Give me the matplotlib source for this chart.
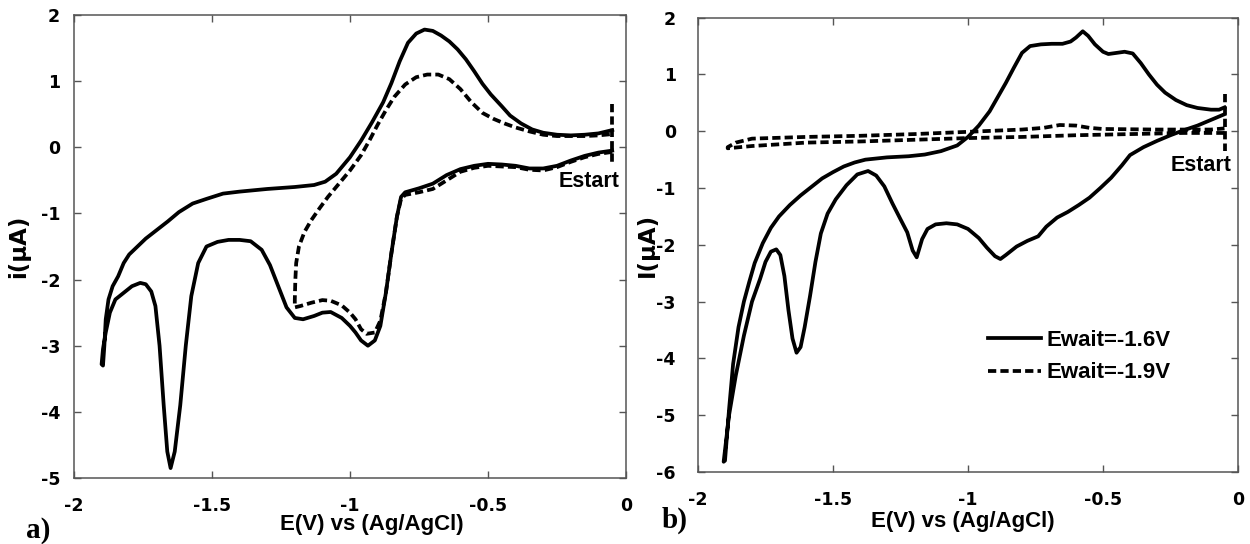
import numpy as np
import matplotlib.pyplot as plt

# (a) cyclic voltammograms, Ewait = -1.6 V (solid) and -1.9 V (dashed)
a_solid_E = [-0.05, -0.1, -0.15, -0.2, -0.25, -0.3, -0.35, -0.4, -0.45, -0.5, -0.55, -0.6, -0.65, -0.7,
             -0.75, -0.8, -0.815, -0.83, -0.85, -0.87, -0.89, -0.91, -0.935, -0.96, -0.98, -1.0, -1.03,
             -1.07, -1.1, -1.13, -1.17, -1.2, -1.23, -1.26, -1.29, -1.32, -1.36, -1.4, -1.44, -1.48,
             -1.52, -1.55, -1.575, -1.595, -1.615, -1.635, -1.65, -1.662, -1.675, -1.69, -1.705, -1.72,
             -1.74, -1.76, -1.79, -1.82, -1.85, -1.87, -1.885, -1.895, -1.9,
             -1.895, -1.89, -1.885, -1.875, -1.86, -1.84, -1.82, -1.8, -1.77, -1.74, -1.7, -1.66, -1.62,
             -1.57, -1.52, -1.46, -1.4, -1.3, -1.2, -1.13, -1.09, -1.05, -1.0, -0.96, -0.92, -0.88,
             -0.85, -0.82, -0.79, -0.76, -0.73, -0.7, -0.67, -0.64, -0.61, -0.58, -0.55, -0.52, -0.49,
             -0.45, -0.42, -0.38, -0.34, -0.3, -0.25, -0.2, -0.15, -0.1, -0.05]
a_solid_i = [-0.05, -0.08, -0.13, -0.2, -0.28, -0.32, -0.32, -0.28, -0.26, -0.25, -0.28, -0.33, -0.42, -0.55,
             -0.62, -0.68, -0.75, -1.05, -1.6, -2.2, -2.7, -2.92, -3.0, -2.92, -2.8, -2.7, -2.58,
             -2.49, -2.5, -2.55, -2.6, -2.58, -2.42, -2.1, -1.78, -1.55, -1.42, -1.4, -1.4, -1.43,
             -1.5, -1.75, -2.25, -3.0, -3.9, -4.6, -4.85, -4.6, -3.9, -3.0, -2.4, -2.18,
             -2.07, -2.05, -2.1, -2.2, -2.3, -2.5, -2.8, -3.05, -3.28,
             -3.3, -3.0, -2.6, -2.3, -2.1, -1.95, -1.75, -1.62, -1.5, -1.38, -1.25, -1.12, -0.98,
             -0.85, -0.78, -0.7, -0.67, -0.63, -0.6, -0.57, -0.52, -0.4, -0.15, 0.1, 0.38, 0.68,
             0.97, 1.3, 1.58, 1.72, 1.78, 1.76, 1.69, 1.6, 1.48, 1.33, 1.15, 0.96, 0.8,
             0.62, 0.48, 0.36, 0.27, 0.22, 0.19, 0.18, 0.19, 0.21, 0.26]

a_dash_E = [-0.05, -0.1, -0.15, -0.2, -0.25, -0.3, -0.35, -0.4, -0.45, -0.5, -0.55, -0.6, -0.65, -0.7,
            -0.75, -0.8, -0.815, -0.83, -0.85, -0.87, -0.89, -0.91, -0.94, -0.96, -0.98, -1.0, -1.03,
            -1.07, -1.1, -1.14, -1.18, -1.2,
            -1.2, -1.198, -1.195, -1.185, -1.165, -1.14, -1.11, -1.08, -1.04, -1.0, -0.96, -0.93, -0.9,
            -0.87, -0.84, -0.8, -0.76, -0.72, -0.68, -0.64, -0.6, -0.56, -0.52, -0.48, -0.44, -0.4,
            -0.35, -0.3, -0.25, -0.2, -0.15, -0.1, -0.05]
a_dash_i = [-0.07, -0.1, -0.15, -0.22, -0.3, -0.35, -0.34, -0.3, -0.29, -0.28, -0.31, -0.37, -0.5, -0.63,
            -0.68, -0.72, -0.78, -1.05, -1.6, -2.2, -2.62, -2.8, -2.82, -2.75, -2.6, -2.5, -2.39,
            -2.32, -2.31, -2.35, -2.4, -2.42,
            -2.3, -2.0, -1.75, -1.5, -1.28, -1.1, -0.92, -0.75, -0.55, -0.35, -0.12, 0.1, 0.34,
            0.56, 0.76, 0.95, 1.06, 1.1, 1.1, 1.03, 0.88, 0.68, 0.52, 0.43, 0.36, 0.3,
            0.24, 0.19, 0.17, 0.17, 0.17, 0.18, 0.2]

# (b)
b_solid_E = [-0.05, -0.1, -0.15, -0.2, -0.25, -0.3, -0.35, -0.4, -0.43, -0.47, -0.51, -0.55, -0.59, -0.63,
             -0.67, -0.71, -0.74, -0.78, -0.82, -0.86, -0.88, -0.9, -0.93, -0.96, -1.0, -1.04, -1.08,
             -1.12, -1.15, -1.17, -1.19, -1.205, -1.225, -1.25, -1.28, -1.31, -1.34, -1.37, -1.41,
             -1.45, -1.49, -1.52, -1.545, -1.565, -1.585, -1.605, -1.62, -1.635, -1.65, -1.665, -1.68,
             -1.695, -1.71, -1.73, -1.75, -1.77, -1.8, -1.83, -1.86, -1.885, -1.905,
             -1.9, -1.885, -1.87, -1.85, -1.83, -1.81, -1.79, -1.76, -1.73, -1.7, -1.66, -1.62, -1.58,
             -1.54, -1.5, -1.46, -1.42, -1.38, -1.3, -1.22, -1.16, -1.1, -1.04, -1.0, -0.96, -0.92,
             -0.89, -0.86, -0.83, -0.8, -0.77, -0.73, -0.69, -0.65, -0.62, -0.6, -0.575, -0.555, -0.53,
             -0.5, -0.48, -0.45, -0.42, -0.39, -0.36, -0.33, -0.3, -0.27, -0.23, -0.19, -0.15, -0.1,
             -0.07, -0.05]
b_solid_i = [0.3, 0.2, 0.1, 0.02, -0.07, -0.17, -0.28, -0.42, -0.6, -0.82, -1.0, -1.17, -1.3, -1.42,
             -1.52, -1.68, -1.85, -1.93, -2.03, -2.18, -2.25, -2.2, -2.05, -1.88, -1.72, -1.64, -1.62,
             -1.64, -1.72, -1.9, -2.22, -2.1, -1.78, -1.55, -1.27, -0.97, -0.78, -0.7, -0.76,
             -0.95, -1.2, -1.45, -1.8, -2.3, -2.9, -3.45, -3.8, -3.9, -3.65, -3.15, -2.55,
             -2.18, -2.08, -2.12, -2.3, -2.6, -3.0, -3.6, -4.3, -5.0, -5.82,
             -5.8, -4.9, -4.1, -3.45, -3.0, -2.65, -2.32, -1.97, -1.7, -1.5, -1.3, -1.13, -0.98,
             -0.83, -0.72, -0.62, -0.55, -0.5, -0.46, -0.44, -0.41, -0.35, -0.25, -0.1, 0.1, 0.35,
             0.6, 0.85, 1.12, 1.38, 1.5, 1.53, 1.54, 1.54, 1.58, 1.65, 1.76, 1.68, 1.53,
             1.4, 1.36, 1.38, 1.4, 1.37, 1.2, 1.0, 0.82, 0.68, 0.55, 0.46, 0.41, 0.38,
             0.38, 0.42]

b_dash_E = [-0.05, -0.2, -0.4, -0.6, -0.8, -1.0, -1.2, -1.4, -1.6, -1.8, -1.89,
            -1.89, -1.86, -1.8, -1.6, -1.4, -1.2, -1.0, -0.8, -0.72, -0.66, -0.6, -0.55, -0.5,
            -0.3, -0.1, -0.05]
b_dash_i = [-0.03, -0.03, -0.05, -0.07, -0.1, -0.12, -0.15, -0.18, -0.2, -0.26, -0.3,
            -0.28, -0.2, -0.13, -0.1, -0.08, -0.05, -0.01, 0.03, 0.06, 0.11, 0.1, 0.06, 0.04,
            0.03, 0.03, 0.05]

# starting potential marker
estart = -0.05
a_estart_i = [0.65, -0.22]
b_estart_i = [0.65, -0.35]

x_ticks = [-2, -1.5, -1, -0.5, 0]
x_ticklabels = ['-2', '-1.5', '-1', '-0.5', '0']

sans = ['Liberation Sans', 'DejaVu Sans']
wide = ['DejaVu Sans']
plt.rcParams['font.family'] = sans
plt.rcParams['font.weight'] = 'bold'

fig = plt.figure(figsize=(12.5, 5.44), dpi=100)
axa = fig.add_axes([0.0592, 0.1213, 0.4416, 0.8511])
axb = fig.add_axes([0.5584, 0.1324, 0.4320, 0.8351])

lw = 2.7
dash = (0, (2.2, 1.1))


def style(ax, ylim, yticks, ylabel, ypad, xlab_pos, ylab_pos):
    ax.set_xlim(-2, 0)
    ax.set_ylim(*ylim)
    ax.set_xticks(x_ticks)
    ax.set_xticklabels(x_ticklabels, family=wide, fontsize=12.5, fontweight='bold')
    ax.set_yticks(yticks)
    ax.set_yticklabels([str(t) for t in yticks], family=wide, fontsize=12.5, fontweight='bold')
    ax.tick_params(direction='in', length=5, width=1, color='#555555', top=True, right=True)
    ax.tick_params(axis='x', pad=13.5)
    ax.tick_params(axis='y', pad=ypad)
    for s in ax.spines.values():
        s.set_color('#555555')
        s.set_linewidth(1.1)
    ax.set_xlabel('E(V) vs (Ag/AgCl)', fontsize=16, fontweight='bold')
    ax.xaxis.label.set_va('center')
    ax.xaxis.set_label_coords(*xlab_pos)
    ax.set_ylabel(ylabel, fontsize=16.5, fontweight='bold', family=wide)
    ax.yaxis.label.set_va('center')
    ax.yaxis.set_label_coords(*ylab_pos)


axa.plot(a_solid_E, a_solid_i, color='black', lw=lw, solid_joinstyle='round')
axa.plot(a_dash_E, a_dash_i, color='black', lw=lw, linestyle=dash)
axa.plot([estart, estart], a_estart_i, color='black', lw=lw, linestyle=dash)
axa.text(-0.025, -0.52, 'Estart', ha='right', va='center', fontsize=15.5, fontweight='bold')
style(axa, (-5, 2), list(range(-5, 3)), 'i(µA)', 10, (0.54, -0.1), (-0.101, 0.5))

axb.plot(b_solid_E, b_solid_i, color='black', lw=lw, solid_joinstyle='round', label='Ewait=-1.6V')
axb.plot(b_dash_E, b_dash_i, color='black', lw=lw, linestyle=dash, label='Ewait=-1.9V')
axb.plot([estart, estart], b_estart_i, color='black', lw=lw, linestyle=dash)
axb.text(-0.025, -0.6, 'Estart', ha='right', va='center', fontsize=15.5, fontweight='bold')
style(axb, (-6, 2), list(range(-6, 3)), 'I(µA)', 16, (0.49, -0.11), (-0.094, 0.5))
axb.legend(loc='upper left', bbox_to_anchor=(0.5, 0.356), frameon=False,
           handlelength=2.4, handletextpad=0.25, labelspacing=0.5, borderpad=0.4,
           prop={'weight': 'bold', 'size': 16, 'family': sans})

fig.text(0.021, 0.012, 'a)', fontsize=21, fontweight='bold', family='Liberation Serif')
fig.text(0.529, 0.03, 'b)', fontsize=21, fontweight='bold', family='Liberation Serif')

fig.savefig('out.png', dpi=100)
